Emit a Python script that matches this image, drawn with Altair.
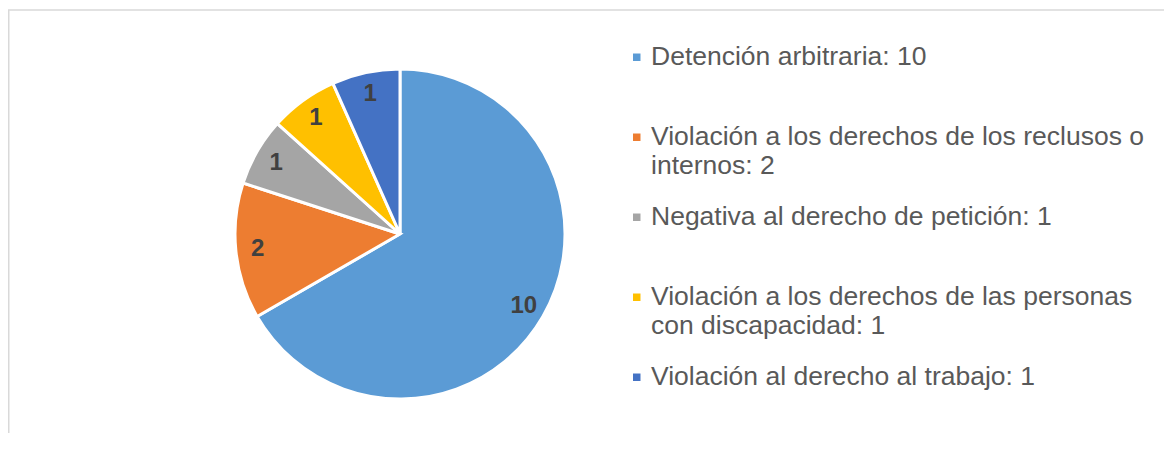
import textwrap
import altair as alt
import pandas as pd

categories = [
    "Detención arbitraria",
    "Violación a los derechos  de los reclusos o internos",
    "Negativa al derecho de petición",
    "Violación a los derechos de las personas con discapacidad",
    "Violación al derecho al trabajo",
]
counts = [10, 2, 1, 1, 1]
colors = ["#5B9BD5", "#ED7D31", "#A5A5A5", "#FFC000", "#4472C4"]

legend_labels = ["\n".join(textwrap.wrap(f"{c}: {n}", width=43)) for c, n in zip(categories, counts)]

df = pd.DataFrame({"orden": list(range(len(counts))), "categoria": legend_labels, "casos": counts})

W, H = 1156, 425
CX, CY, R = 392, 226, 165

base = alt.Chart(df).encode(
    theta=alt.Theta("casos:Q", stack=True),
    order=alt.Order("orden:Q", sort="ascending"),
    x=alt.value(CX),
    y=alt.value(CY),
)

arc = base.mark_arc(outerRadius=R, stroke="white", strokeWidth=3).encode(
    color=alt.Color(
        "categoria:N",
        scale=alt.Scale(domain=legend_labels, range=colors),
        legend=alt.Legend(
            title=None,
            orient="none",
            legendX=615.5,
            legendY=36,
            symbolType="square",
            symbolSize=56,
            symbolStrokeWidth=0,
            labelFontSize=26.5,
            labelFont="Liberation Sans",
            labelColor="#595959",
            labelOffset=1,
            labelLimit=700,
            labelExpr="split(datum.label, '\\n')",
            gridAlign="all",
            rowPadding=24,
            padding=0,
        ),
    )
)

labels = base.mark_text(
    radius=143, fontSize=24, fontWeight="bold", color="#404040", font="Liberation Sans",
    align="center", baseline="middle",
).encode(text="casos:Q")

frame = alt.Data(values=[{"k": 1}])
top_rule = alt.Chart(frame).mark_rule(color="#D9D9D9", strokeWidth=1.5).encode(
    x=alt.value(0), x2=alt.value(W), y=alt.value(2)
)
left_rule = alt.Chart(frame).mark_rule(color="#D9D9D9", strokeWidth=1.5).encode(
    x=alt.value(0.75), y=alt.value(2), y2=alt.value(H)
)

chart = (
    alt.layer(top_rule, left_rule, arc, labels)
    .properties(width=W, height=H, padding=0, autosize=alt.AutoSizeParams(type="none"))
    .configure_view(stroke=None)
)

chart.save("out.html", embed_options={"renderer": "svg", "actions": False})
